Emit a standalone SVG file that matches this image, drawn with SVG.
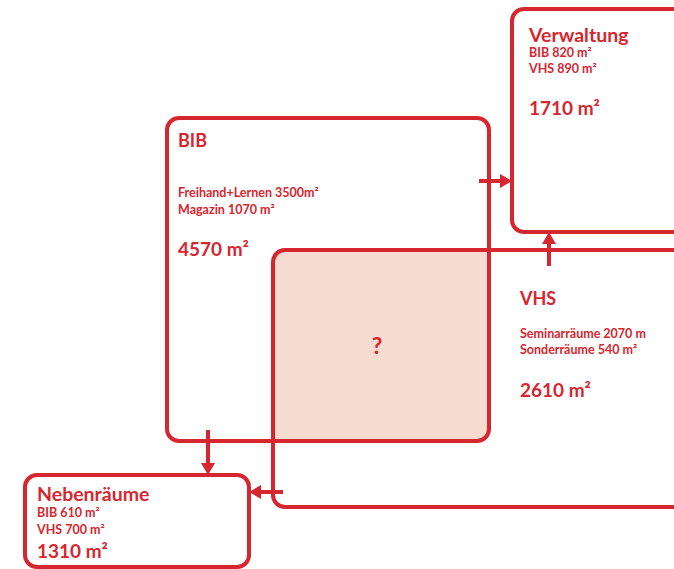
<svg xmlns="http://www.w3.org/2000/svg" width="674" height="569" viewBox="0 0 674 569">
<defs>
<style>
.box{fill:none;stroke:#d6262f;stroke-width:4}
.ln{stroke:#d6262f;stroke-width:4;fill:none}
.ah{fill:#d6262f}
text{font-family:Lato,"Open Sans",sans-serif;font-weight:bold;fill:#d6262f}
.t{font-size:18px}
.s{font-size:12.5px}
.b{font-size:19px}
</style>
</defs>
<rect width="674" height="569" fill="#ffffff"/>
<g id="overlap">
<path d="M285,250 H489 V429 A12,12 0 0 1 477,441 H273 V262 A12,12 0 0 1 285,250 Z" fill="#f5dbd0"/>
<text x="377" y="354" text-anchor="middle" style="font-size:23px">?</text>
</g>
<g id="verwaltung">
<rect class="box" x="512" y="9" width="190" height="223" rx="12"/>
<text x="529" y="42" style="font-size:19.5px">Verwaltung</text>
<text class="s" x="529" y="57">BIB 820 m²</text>
<text class="s" x="529" y="73">VHS 890 m²</text>
<text class="b" x="529" y="115">1710 m²</text>
</g>
<g id="bib">
<rect class="box" x="167" y="118" width="322" height="323" rx="12"/>
<text class="t" x="178" y="147">BIB</text>
<text class="s" x="178" y="197">Freihand+Lernen 3500m²</text>
<text class="s" x="178" y="214">Magazin 1070 m²</text>
<text class="b" x="178" y="256">4570 m²</text>
</g>
<g id="vhs">
<rect class="box" x="273" y="250" width="430" height="257" rx="12"/>
<text class="t" x="520" y="305">VHS</text>
<text class="s" x="520" y="338">Seminarräume 2070 m</text>
<text class="s" x="520" y="354">Sonderräume 540 m²</text>
<text class="b" x="520" y="397">2610 m²</text>
</g>
<g id="nebenraeume">
<rect class="box" x="25" y="475" width="224" height="92" rx="12"/>
<text x="37" y="501" style="font-size:19.5px">Nebenräume</text>
<text class="s" x="37" y="517">BIB 610 m²</text>
<text class="s" x="37" y="534">VHS 700 m²</text>
<text class="b" x="37" y="558">1310 m²</text>
</g>
<g id="connectors">
<line class="ln" x1="479" y1="181" x2="502" y2="181"/>
<polygon class="ah" points="512,181 500,174 500,188"/>
<line class="ln" x1="549" y1="266" x2="549" y2="242"/>
<polygon class="ah" points="549,232 542,244 556,244"/>
<line class="ln" x1="208" y1="430" x2="208" y2="465"/>
<polygon class="ah" points="208,475 201,463 215,463"/>
<line class="ln" x1="283" y1="492" x2="259" y2="492"/>
<polygon class="ah" points="249,492 261,485 261,499"/>
</g>
</svg>
